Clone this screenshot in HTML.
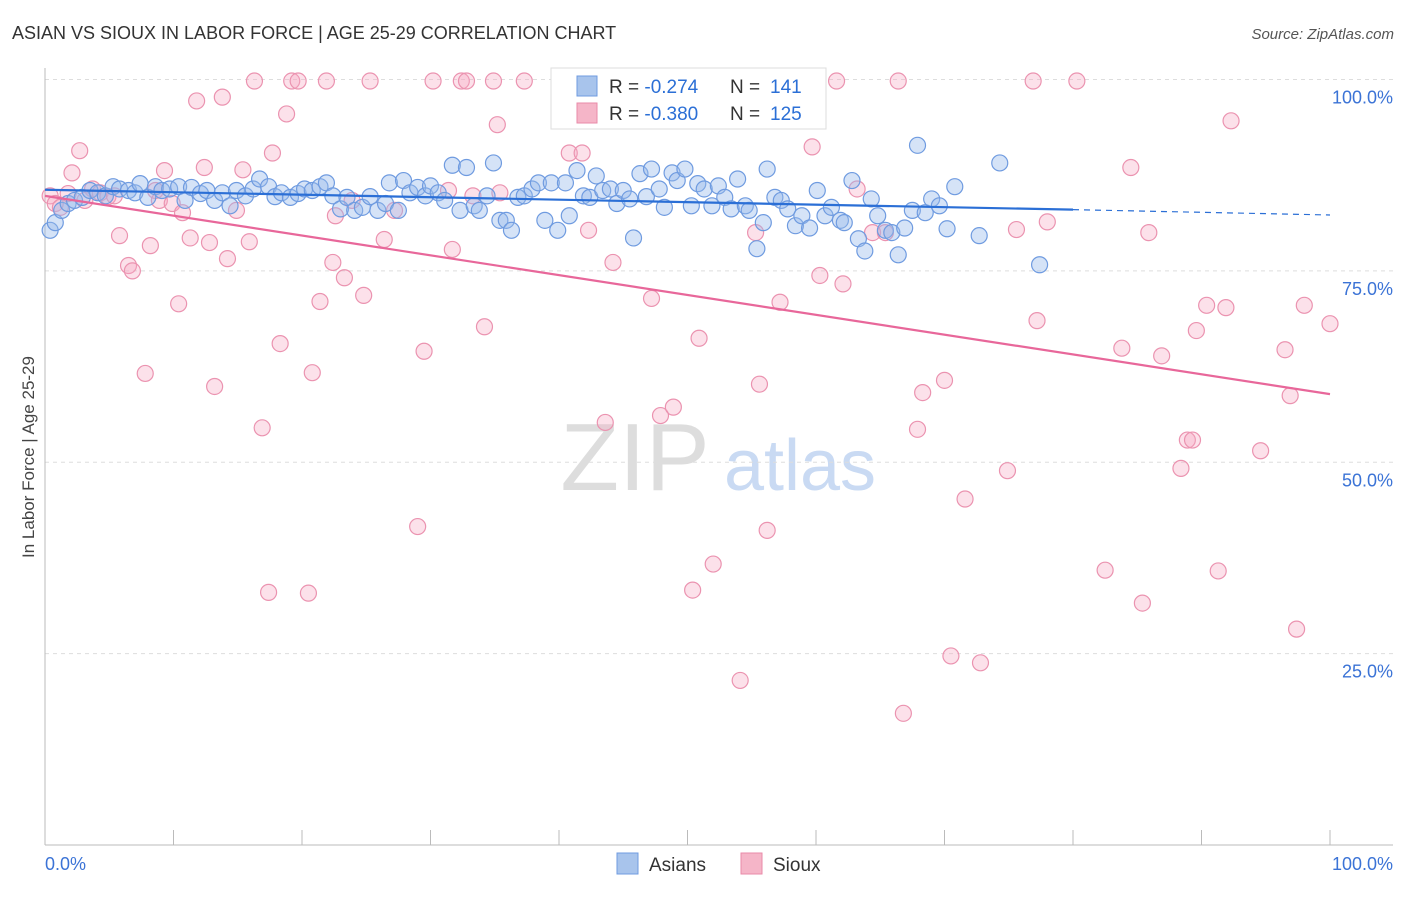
<!DOCTYPE html>
<html><head><meta charset="utf-8"><style>
body{margin:0;background:#fff;font-family:"Liberation Sans",sans-serif;}
svg text{font-family:"Liberation Sans",sans-serif;}
</style></head><body>
<svg id="chart" width="1406" height="892" viewBox="0 0 1406 892" xmlns="http://www.w3.org/2000/svg">
<text x="12" y="39" font-size="18" fill="#333">ASIAN VS SIOUX IN LABOR FORCE | AGE 25-29 CORRELATION CHART</text>
<text x="1394" y="39" font-size="15" fill="#555" text-anchor="end" font-style="italic">Source: ZipAtlas.com</text>
<text transform="translate(34,457) rotate(-90)" font-size="17" fill="#444" text-anchor="middle">In Labor Force | Age 25-29</text>
<g>
<text x="635" y="490" font-size="96" fill="#ddd" text-anchor="middle" font-family="Liberation Serif,serif">ZIP</text>
<text x="800" y="490" font-size="72" fill="#c9daf3" text-anchor="middle">atlas</text>
</g>
<g id="grid"></g><g id="ticks"></g><g id="pts"></g><g id="lines"></g>
<g>
<rect x="551" y="68" width="275" height="61" fill="#fff" stroke="#ddd"/>
<rect x="577" y="76" width="20" height="20" fill="#a8c4ec" stroke="#6f9be0"/>
<text x="609" y="93" font-size="19" fill="#333">R = <tspan fill="#2b6fd6">-0.274</tspan></text>
<text x="730" y="93" font-size="19" fill="#333">N =</text>
<text x="770" y="93" font-size="19" fill="#2b6fd6">141</text>
<rect x="577" y="103" width="20" height="20" fill="#f5b5c8" stroke="#e98aa8"/>
<text x="609" y="120" font-size="19" fill="#333">R = <tspan fill="#2b6fd6">-0.380</tspan></text>
<text x="730" y="120" font-size="19" fill="#333">N =</text>
<text x="770" y="120" font-size="19" fill="#2b6fd6">125</text>
</g>
<g>
<rect x="617" y="853" width="21" height="21" fill="#a8c4ec" stroke="#6f9be0"/>
<text x="649" y="871" font-size="19" fill="#333">Asians</text>
<rect x="741" y="853" width="21" height="21" fill="#f5b5c8" stroke="#e98aa8"/>
<text x="773" y="871" font-size="19" fill="#333">Sioux</text>
</g>
</svg>
<script>
const yTicks=[25,50,75,100];
const yTickLabels=["25.0%","50.0%","75.0%","100.0%"];
const xTickLabels=["0.0%","100.0%"];
const asianX=[0.4,0.8,1.3,1.8,2.3,2.9,3.5,4.1,4.7,5.3,5.8,6.5,7.0,7.4,8.0,8.6,9.1,9.7,10.4,10.9,11.4,12.1,12.6,13.2,13.8,14.4,14.9,15.6,16.2,16.7,17.4,17.9,18.4,19.1,19.7,20.2,20.8,21.4,21.9,22.4,23.0,23.5,24.1,24.7,25.3,25.9,26.5,26.8,27.5,27.9,28.4,29.0,29.6,30.0,30.6,31.1,31.7,32.3,32.8,33.4,33.8,34.4,34.9,35.4,35.9,36.3,36.8,37.3,37.9,38.4,38.9,39.4,39.9,40.5,40.8,41.4,41.9,42.4,42.9,43.4,44.0,44.5,45.0,45.5,45.8,46.3,46.8,47.2,47.8,48.2,48.8,49.2,49.8,50.3,50.8,51.3,51.9,52.4,52.9,53.4,53.9,54.5,54.8,55.4,55.9,56.2,56.8,57.3,57.8,58.4,58.9,59.5,60.1,60.7,61.2,61.9,62.2,62.8,63.3,63.8,64.3,64.8,65.4,65.9,66.4,66.9,67.5,67.9,68.5,69.0,69.6,70.2,70.8,72.7,74.3,77.4];
const asianY=[80.3,81.3,82.9,83.8,84.2,84.6,85.5,85.2,84.8,86.0,85.7,85.5,85.2,86.4,84.6,86.0,85.5,85.7,86.0,84.2,85.9,85.1,85.5,84.2,85.2,83.5,85.5,84.8,85.7,87.0,86.0,84.7,85.2,84.6,85.1,85.7,85.5,86.0,86.5,84.8,83.1,84.6,82.9,83.3,84.7,82.9,83.8,86.5,82.9,86.8,85.2,85.9,84.8,86.1,85.2,84.2,88.8,82.9,88.5,83.5,82.9,84.8,89.1,81.6,81.6,80.3,84.6,84.8,85.7,86.5,81.6,86.5,80.3,86.5,82.2,88.1,84.8,84.6,87.4,85.5,85.7,83.8,85.5,84.4,79.3,87.7,84.7,88.3,85.7,83.3,87.8,86.8,88.3,83.5,86.4,85.7,83.5,86.1,84.6,83.1,87.0,83.5,82.9,77.9,81.3,88.3,84.6,84.2,83.1,80.9,82.2,80.6,85.5,82.2,83.3,81.6,81.3,86.8,79.2,77.6,84.4,82.2,80.3,80.0,77.1,80.6,82.9,91.4,82.6,84.4,83.5,80.5,86.0,79.6,89.1,75.8];
const siouxX=[0.4,0.8,1.2,1.8,2.1,2.7,3.1,3.7,4.3,4.9,5.4,5.8,6.5,6.8,7.8,8.2,8.6,8.9,9.3,9.9,10.4,10.7,11.3,11.8,12.4,12.8,13.2,13.8,14.2,14.9,15.4,15.9,16.3,16.9,17.4,17.7,18.3,18.8,19.2,19.7,20.5,20.8,21.4,21.9,22.4,22.6,23.3,23.9,24.8,25.3,26.4,27.2,29.0,29.5,30.2,31.4,31.7,32.4,32.8,33.3,34.2,34.9,35.2,35.4,37.3,40.8,41.8,42.3,43.6,44.2,47.2,47.9,48.9,50.4,50.9,52.0,54.1,55.3,55.6,56.2,57.2,59.7,60.3,61.6,62.1,63.2,64.4,65.4,66.4,66.8,67.9,68.3,70.0,70.5,71.6,72.8,74.9,75.6,76.9,77.2,78.0,80.3,82.5,83.8,84.5,85.4,85.9,86.9,88.4,88.9,89.3,89.6,90.4,91.3,91.9,92.3,94.6,96.5,96.9,97.4,98.0,100];
const siouxY=[84.8,83.8,83.3,85.1,87.8,90.7,84.2,85.7,85.2,84.7,84.8,79.6,75.7,75.0,61.6,78.3,85.5,84.2,88.1,83.8,70.7,82.6,79.3,97.2,88.5,78.7,59.9,97.7,76.6,82.9,88.2,78.8,99.8,54.5,33.0,90.4,65.5,95.5,99.8,99.8,32.9,61.7,71.0,99.8,76.1,82.2,74.1,84.2,71.8,99.8,79.1,82.9,41.6,64.5,99.8,85.5,77.8,99.8,99.8,84.8,67.7,99.8,94.1,85.2,99.8,90.4,90.4,80.3,55.2,76.1,71.4,56.1,57.2,33.3,66.2,36.7,21.5,80.0,60.2,41.1,70.9,91.2,74.4,99.8,73.3,85.7,80.0,80.0,99.8,17.2,54.3,59.1,60.7,24.7,45.2,23.8,48.9,80.4,99.8,68.5,81.4,99.8,35.9,64.9,88.5,31.6,80.0,63.9,49.2,52.9,52.9,67.2,70.5,35.8,70.2,94.6,51.5,64.7,58.7,28.2,70.5,68.1];
const asianTrend=[[0,85.6],[80,83.0],[100,82.3]];
const siouxTrend=[[0,84.8],[100,58.9]];

const NS="http://www.w3.org/2000/svg";
function xs(v){return 45+v*12.85;}
function ys(v){return 845-v*7.655;}
function mk(tag,attrs,parent){const e=document.createElementNS(NS,tag);for(const k in attrs)e.setAttribute(k,attrs[k]);parent.appendChild(e);return e;}
const grid=document.getElementById('grid'),ticks=document.getElementById('ticks'),pts=document.getElementById('pts'),lines=document.getElementById('lines');
yTicks.forEach((t,i)=>{
 const l=mk('line',{x1:45,x2:1393,y1:ys(t),y2:ys(t),stroke:'#ddd','stroke-dasharray':'4,4'},grid);
 
 
 const tx=mk('text',{x:1393,y:ys(t)+24,'font-size':18,fill:'#3b73d6','text-anchor':'end'},ticks);
 tx.textContent=yTickLabels[i];
 
 
});
const ax=mk('line',{x1:45,x2:1393,y1:845,y2:845,stroke:'#bbb'},ticks);


const ay=mk('line',{x1:45,x2:45,y1:68,y2:845,stroke:'#bbb'},ticks);


for(let i=0;i<=10;i++){
 const t=mk('line',{x1:xs(i*10),x2:xs(i*10),y1:830,y2:845,stroke:'#bbb'},ticks);
 
 
}
const xl0=mk('text',{x:45,y:870,'font-size':18,fill:'#3b73d6'},ticks);xl0.textContent=xTickLabels[0];


const xl1=mk('text',{x:1393,y:870,'font-size':18,fill:'#3b73d6','text-anchor':'end'},ticks);xl1.textContent=xTickLabels[1];


siouxX.forEach((v,i)=>{
 const c=mk('circle',{cx:xs(v),cy:ys(siouxY[i]),r:8,fill:'rgba(245,170,195,0.35)',stroke:'#eb93b0','stroke-width':1.2},pts);
 
 
});
asianX.forEach((v,i)=>{
 const c=mk('circle',{cx:xs(v),cy:ys(asianY[i]),r:8,fill:'rgba(150,185,235,0.4)',stroke:'#6f9be0','stroke-width':1.2},pts);
 
 
});
const a1=mk('line',{x1:xs(asianTrend[0][0]),y1:ys(asianTrend[0][1]),x2:xs(asianTrend[1][0]),y2:ys(asianTrend[1][1]),stroke:'#2b6fd6','stroke-width':2.2},lines);


const a2=mk('line',{x1:xs(asianTrend[1][0]),y1:ys(asianTrend[1][1]),x2:xs(asianTrend[2][0]),y2:ys(asianTrend[2][1]),stroke:'#2b6fd6','stroke-width':1.2,'stroke-dasharray':'6,5'},lines);


const s1=mk('line',{x1:xs(siouxTrend[0][0]),y1:ys(siouxTrend[0][1]),x2:xs(siouxTrend[1][0]),y2:ys(siouxTrend[1][1]),stroke:'#e8679a','stroke-width':2.2},lines);


</script>
</body></html>
